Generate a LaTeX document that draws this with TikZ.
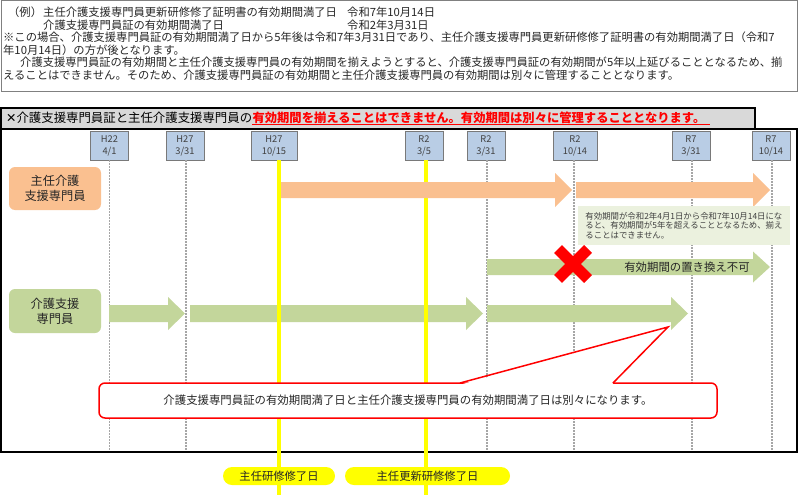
\documentclass[tikz,border=0pt]{standalone}
\usepackage{fontspec}
\setmainfont{Noto Sans CJK JP}
\newfontfamily\dejavu{DejaVu Sans}
\usetikzlibrary{calc}
\definecolor{orangeA}{HTML}{FAC090}
\definecolor{greenA}{HTML}{C3D69B}
\definecolor{dateblue}{HTML}{B9CDE5}
\definecolor{noteg}{HTML}{EBF1DE}
\definecolor{hdrgray}{HTML}{D9D9D9}
\definecolor{txt}{HTML}{262626}
\definecolor{datetxt}{HTML}{404040}
\definecolor{guide}{HTML}{A6A6A6}
\definecolor{yel}{HTML}{FFFF00}
\definecolor{xred}{HTML}{FF0000}
\newcommand\fatarrow[6]{\fill[#1] (#2,#4-#5) -- (#3-17,#4-#5) -- (#3-17,#4-#6) -- (#3,#4) -- (#3-17,#4+#6) -- (#3-17,#4+#5) -- (#2,#4+#5) -- cycle;}
\tikzset{
  tl/.style={font=\fontsize{11.3}{14}\selectfont, text=txt, inner sep=0pt, anchor=base west},
  datebox/.style={draw=datetxt!70, line width=0.8pt, fill=dateblue, minimum width=38pt, minimum height=29pt, inner sep=0pt, align=center, font=\fontsize{9.3}{12}\selectfont, text=datetxt},
  guideline/.style={draw=guide, line width=1.4pt, dash pattern=on 1.4pt off 1.6pt},
  yline/.style={draw=yel, line width=4pt},
  lbl/.style={rounded corners=6pt, minimum width=92pt, inner sep=0pt, align=center, font=\fontsize{12.2}{15}\selectfont, text=txt},
  notebox/.style={fill=noteg, minimum width=212pt, minimum height=39pt, inner sep=0pt, align=left, font=\fontsize{8.4}{9.6}\selectfont, text=datetxt},
  callbox/.style={draw=xred, line width=1.5pt, fill=white, rounded corners=6pt, minimum width=618pt, minimum height=35pt, inner sep=0pt, font=\fontsize{11.4}{14}\selectfont, text=txt},
  pill/.style={fill=yel, rounded corners=9pt, minimum height=18pt, inner sep=0pt, font=\fontsize{11.3}{14}\selectfont, text=txt}
}
\begin{document}
\begin{tikzpicture}[x=1pt,y=-1pt]
\useasboundingbox (0,0) rectangle (800,495);
% top explanation box
\draw[draw=gray, line width=1pt] (1,1) rectangle (797,91);
\node[tl] (t1a) at (8,16.4) {（例）};
\node[tl] (t1b) at (43,16.4) {主任介護支援専門員更新研修修了証明書の有効期間満了日};
\node[tl] (t1c) at (347,16.4) {令和7年10月14日};
\node[tl] (t2b) at (43,29.4) {介護支援専門員証の有効期間満了日};
\node[tl] (t2c) at (347,29.4) {令和2年3月31日};
\node[tl] (t3) at (3,41.4) {※この場合、介護支援専門員証の有効期間満了日から5年後は令和7年3月31日であり、主任介護支援専門員更新研修修了証明書の有効期間満了日（令和7};
\node[tl] (t4) at (3,54.1) {年10月14日）の方が後となります。};
\node[tl] (t5) at (20,66.7) {介護支援専門員証の有効期間と主任介護支援専門員の有効期間を揃えようとすると、介護支援専門員証の有効期間が5年以上延びることとなるため、揃};
\node[tl] (t6) at (3,79.4) {えることはできません。そのため、介護支援専門員証の有効期間と主任介護支援専門員の有効期間は別々に管理することとなります。};
% panel and header
\draw[fill=white, line width=1.8pt] (1,129) rectangle (797,452);
\draw[fill=hdrgray, line width=1.8pt] (1,108) rectangle (755,129);
\node[anchor=base west, inner sep=0pt, font=\fontsize{12.4}{14}\selectfont, text=black] (h1) at (6,122.6) {{\dejavu ✕}介護支援専門員証と主任介護支援専門員の};
\node[anchor=base west, inner sep=0pt, font=\fontsize{12.3}{14}\selectfont\bfseries, text=xred] (h2) at (h1.base east) {有効期間を揃えることはできません。有効期間は別々に管理することとなります。};
\draw[xred, line width=1.2pt] ([yshift=-2pt]h2.base west) -- ([xshift=4pt,yshift=-2pt]h2.base east);
% date boxes
\node[datebox] (d1) at (109.5,145.5) {H22\\4/1};
\node[datebox] (d2) at (185,145.5) {H27\\3/31};
\node[datebox, minimum width=46pt] (d3) at (274,145.5) {H27\\10/15};
\node[datebox] (d4) at (424,145.5) {R2\\3/5};
\node[datebox] (d5) at (486,145.5) {R2\\3/31};
\node[datebox, minimum width=44pt] (d6) at (575,145.5) {R2\\10/14};
\node[datebox] (d7) at (691,145.5) {R7\\3/31};
\node[datebox] (d8) at (771,145.5) {R7\\10/14};
\coordinate (pb) at (0,450);
\coordinate (ib) at (0,495);
% dotted guides
\foreach \d/\s in {d1/0, d2/1, d5/1, d6/-1, d7/1, d8/1}
  \draw[guideline] ([xshift=\s pt]\d.south) -- ([xshift=\s pt]\d.south |- pb);
% green arrows
\fatarrow{greenA}{109}{185}{313.5}{8.5}{16.5}
\fatarrow{greenA}{190}{483}{313.5}{8.5}{16.5}
\fatarrow{greenA}{487}{688}{313.5}{8.5}{16.5}
\fatarrow{greenA}{487}{770}{267}{8}{15.5}
% yellow lines
\draw[yline] ([xshift=5pt]d3.south) -- ([xshift=5pt]d3.south |- ib);
\draw[yline] ([xshift=2pt]d4.south) -- ([xshift=2pt]d4.south |- ib);
% orange arrows
\fatarrow{orangeA}{281}{572}{190}{8}{17}
\fatarrow{orangeA}{576}{770}{190}{8}{17}
% note
\node[notebox] (nb) at (684,225.5) {有効期間が令和2年4月1日から令和7年10月14日にな\\ると、有効期間が5年を超えることとなるため、揃え\\ることはできません。};
% red cross
\draw[xred, line width=11pt] (558,249) -- (588,279) (558,279) -- (588,249);
\node[font=\fontsize{11.4}{14}\selectfont, text=txt, inner sep=0pt] (nx) at (687,267) {有効期間の置き換え不可};
% left labels
\node[lbl, fill=orangeA, minimum height=43pt] (lo) at (55,188.5) {主任介護\\支援専門員};
\node[lbl, fill=greenA, minimum height=44pt] (lg) at (55,311) {介護支援\\専門員};
% callout
\node[callbox] (co) at (408,400.5) {介護支援専門員証の有効期間満了日と主任介護支援専門員の有効期間満了日は別々になります。};
\coordinate (tip) at (668,327);
\coordinate (ca) at (460,383);
\coordinate (cb) at (613,383);
\fill[white] ([xshift=1pt,yshift=-1.5pt]ca) -- (tip) -- ([xshift=-1pt,yshift=-1.5pt]cb) -- cycle;
\draw[xred, line width=1.5pt] (ca) -- (tip) -- (cb);
% pills
\node[pill, minimum width=112pt] (p1) at (279,476) {主任研修修了日};
\node[pill, minimum width=165pt] (p2) at (427.5,476) {主任更新研修修了日};
\end{tikzpicture}
\end{document}
